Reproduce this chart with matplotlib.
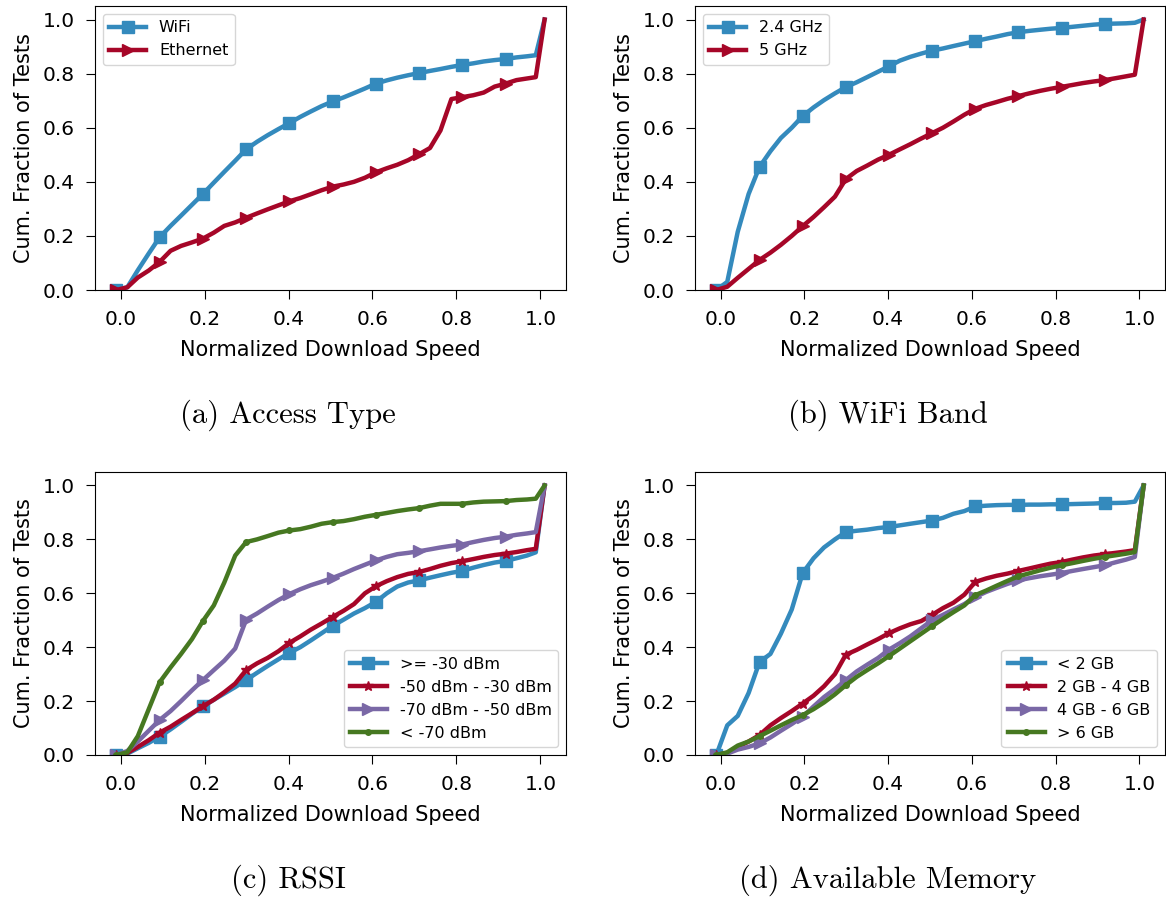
import matplotlib
matplotlib.use("Agg")
import matplotlib.pyplot as plt

# Normalized download speed grid shared by every CDF curve
speed = [-0.010, 0.016, 0.041, 0.067, 0.093, 0.119, 0.144, 0.170, 0.196, 0.222,
         0.247, 0.273, 0.299, 0.325, 0.350, 0.376, 0.402, 0.428, 0.453, 0.479,
         0.505, 0.531, 0.556, 0.582, 0.608, 0.634, 0.659, 0.685, 0.711, 0.737,
         0.762, 0.788, 0.814, 0.840, 0.865, 0.891, 0.917, 0.943, 0.968, 0.989,
         1.010]

# (a) Access type
wifi = [0.0, 0.01, 0.073, 0.135, 0.195, 0.237, 0.275, 0.315, 0.355, 0.397,
        0.437, 0.478, 0.52, 0.548, 0.572, 0.595, 0.617, 0.64, 0.66, 0.68,
        0.697, 0.712, 0.728, 0.745, 0.763, 0.775, 0.785, 0.794, 0.802, 0.81,
        0.817, 0.825, 0.832, 0.838, 0.845, 0.85, 0.854, 0.86, 0.864, 0.868,
        1.0]
ethernet = [0.0, 0.01, 0.046, 0.072, 0.104, 0.145, 0.163, 0.176, 0.19, 0.212,
            0.237, 0.25, 0.267, 0.283, 0.298, 0.313, 0.328, 0.34, 0.354, 0.369,
            0.382, 0.39, 0.40, 0.415, 0.435, 0.45, 0.463, 0.48, 0.502, 0.525,
            0.59, 0.706, 0.713, 0.72, 0.73, 0.752, 0.763, 0.776, 0.782, 0.787,
            1.0]

# (b) WiFi band
band_24 = [0.0, 0.03, 0.215, 0.355, 0.455, 0.513, 0.562, 0.60, 0.643, 0.675,
           0.702, 0.727, 0.75, 0.768, 0.787, 0.807, 0.827, 0.848, 0.862, 0.874,
           0.885, 0.893, 0.902, 0.911, 0.92, 0.929, 0.937, 0.946, 0.953, 0.958,
           0.962, 0.966, 0.969, 0.973, 0.977, 0.981, 0.984, 0.985, 0.986, 0.988,
           1.0]
band_5 = [0.0, 0.012, 0.045, 0.078, 0.111, 0.138, 0.167, 0.20, 0.236, 0.27,
          0.306, 0.345, 0.41, 0.44, 0.46, 0.482, 0.50, 0.52, 0.539, 0.56,
          0.58, 0.60, 0.623, 0.648, 0.67, 0.684, 0.695, 0.707, 0.717, 0.727,
          0.736, 0.744, 0.751, 0.758, 0.765, 0.771, 0.776, 0.783, 0.79, 0.796,
          1.0]

# (c) RSSI
rssi_ge30 = [0.0, 0.005, 0.025, 0.045, 0.068, 0.095, 0.123, 0.153, 0.18, 0.205,
             0.228, 0.252, 0.278, 0.305, 0.33, 0.355, 0.379, 0.40, 0.425, 0.452,
             0.479, 0.502, 0.525, 0.545, 0.568, 0.60, 0.625, 0.64, 0.648, 0.658,
             0.667, 0.676, 0.683, 0.695, 0.705, 0.714, 0.72, 0.73, 0.74, 0.752,
             1.0]
rssi_50_30 = [0.0, 0.008, 0.03, 0.055, 0.083, 0.105, 0.13, 0.155, 0.181, 0.205,
              0.233, 0.265, 0.315, 0.34, 0.36, 0.385, 0.416, 0.44, 0.465, 0.488,
              0.512, 0.535, 0.56, 0.60, 0.626, 0.645, 0.66, 0.672, 0.679, 0.69,
              0.702, 0.712, 0.719, 0.727, 0.735, 0.742, 0.747, 0.753, 0.76, 0.765,
              1.0]
rssi_70_50 = [0.0, 0.015, 0.05, 0.09, 0.13, 0.163, 0.2, 0.24, 0.278, 0.315,
              0.35, 0.395, 0.502, 0.525, 0.55, 0.575, 0.597, 0.615, 0.63, 0.643,
              0.657, 0.673, 0.69, 0.706, 0.722, 0.735, 0.745, 0.75, 0.756, 0.763,
              0.77, 0.776, 0.781, 0.79, 0.798, 0.805, 0.81, 0.817, 0.822, 0.827,
              1.0]
rssi_lt70 = [0.0, 0.01, 0.07, 0.17, 0.27, 0.325, 0.375, 0.43, 0.497, 0.555,
             0.64, 0.74, 0.79, 0.80, 0.812, 0.825, 0.833, 0.838, 0.847, 0.858,
             0.864, 0.868, 0.875, 0.884, 0.891, 0.898, 0.905, 0.911, 0.916, 0.925,
             0.932, 0.932, 0.932, 0.937, 0.94, 0.941, 0.942, 0.946, 0.948, 0.951,
             1.0]

# (d) Available memory
mem_lt2 = [0.0, 0.11, 0.145, 0.23, 0.345, 0.375, 0.45, 0.54, 0.675, 0.73,
           0.77, 0.80, 0.827, 0.832, 0.836, 0.842, 0.846, 0.852, 0.858, 0.864,
           0.87, 0.88, 0.895, 0.905, 0.922, 0.925, 0.927, 0.928, 0.928, 0.929,
           0.929, 0.93, 0.93, 0.931, 0.932, 0.933, 0.935, 0.935, 0.936, 0.94,
           1.0]
mem_2_4 = [0.0, 0.008, 0.03, 0.05, 0.074, 0.11, 0.137, 0.163, 0.191, 0.22,
           0.255, 0.30, 0.372, 0.39, 0.41, 0.43, 0.452, 0.47, 0.485, 0.497,
           0.52, 0.545, 0.565, 0.595, 0.642, 0.655, 0.665, 0.673, 0.683, 0.692,
           0.701, 0.71, 0.716, 0.725, 0.733, 0.74, 0.745, 0.75, 0.755, 0.76,
           1.0]
mem_4_6 = [0.0, 0.005, 0.02, 0.03, 0.043, 0.065, 0.09, 0.115, 0.142, 0.18,
           0.215, 0.245, 0.278, 0.31, 0.335, 0.36, 0.391, 0.415, 0.44, 0.47,
           0.50, 0.52, 0.54, 0.56, 0.586, 0.605, 0.62, 0.635, 0.648, 0.656,
           0.663, 0.669, 0.675, 0.683, 0.69, 0.697, 0.704, 0.715, 0.725, 0.735,
           1.0]
mem_gt6 = [0.0, 0.01, 0.035, 0.05, 0.07, 0.09, 0.11, 0.13, 0.148, 0.17,
           0.195, 0.225, 0.259, 0.29, 0.315, 0.34, 0.367, 0.395, 0.422, 0.45,
           0.478, 0.505, 0.53, 0.555, 0.593, 0.61, 0.628, 0.646, 0.663, 0.674,
           0.685, 0.695, 0.704, 0.712, 0.72, 0.728, 0.735, 0.741, 0.747, 0.753,
           1.0]

captions = ["(a) Access Type", "(b) WiFi Band", "(c) RSSI", "(d) Available Memory"]

BLUE, RED, PURPLE, GREEN = "#348ABD", "#A60628", "#7A68A6", "#467821"
STYLE = {
    "s": dict(marker="s", markersize=8.5),
    ">": dict(marker=">", markersize=9),
    "*": dict(marker="*", markersize=7.5),
    ".": dict(marker=".", markersize=8),
}

panels = [
    ([("WiFi", wifi, BLUE, "s"), ("Ethernet", ethernet, RED, ">")], "upper left"),
    ([("2.4 GHz", band_24, BLUE, "s"), ("5 GHz", band_5, RED, ">")], "upper left"),
    ([(">= -30 dBm", rssi_ge30, BLUE, "s"), ("-50 dBm - -30 dBm", rssi_50_30, RED, "*"),
      ("-70 dBm - -50 dBm", rssi_70_50, PURPLE, ">"), ("< -70 dBm", rssi_lt70, GREEN, ".")],
     "lower right"),
    ([("< 2 GB", mem_lt2, BLUE, "s"), ("2 GB - 4 GB", mem_2_4, RED, "*"),
      ("4 GB - 6 GB", mem_4_6, PURPLE, ">"), ("> 6 GB", mem_gt6, GREEN, ".")],
     "lower right"),
]

W, H = 1166, 898
fig = plt.figure(figsize=(W / 100, H / 100), dpi=100)
plt.rcParams["font.family"] = ["DejaVu Sans"]

# axes boxes in pixels: left, right, top, bottom
boxes = [(95, 566, 6, 290), (695, 1165, 6, 290),
         (95, 566, 472, 755), (695, 1165, 472, 755)]
caption_pos = [(288, 415), (888, 415), (288, 880), (888, 880)]

for (series, loc), (l, r, t, b), cap, (cx, cy) in zip(panels, boxes, captions, caption_pos):
    ax = fig.add_axes([l / W, 1 - b / H, (r - l) / W, (b - t) / H])
    for label, vals, color, mk in series:
        ax.plot(speed, vals, color=color, lw=3.2, label=label,
                markevery=list(range(0, 37, 4)), **STYLE[mk])
    ax.set_ylim(0, 1.05)
    ax.set_xticks([0.0, 0.2, 0.4, 0.6, 0.8, 1.0])
    ax.set_yticks([0.0, 0.2, 0.4, 0.6, 0.8, 1.0])
    ax.tick_params(labelsize=14.5, length=6.5, pad=8)
    ax.set_xlabel("Normalized Download Speed", fontsize=15, labelpad=8)
    ax.set_ylabel("Cum. Fraction of Tests", fontsize=15, labelpad=6.5)
    ax.legend(loc=loc, fontsize=11.5, handlelength=2.3)
    fig.text(cx / W, 1 - cy / H, cap, family="cmr10", fontsize=22,
             ha="center", va="center")

fig.savefig("out.png", dpi=100)
